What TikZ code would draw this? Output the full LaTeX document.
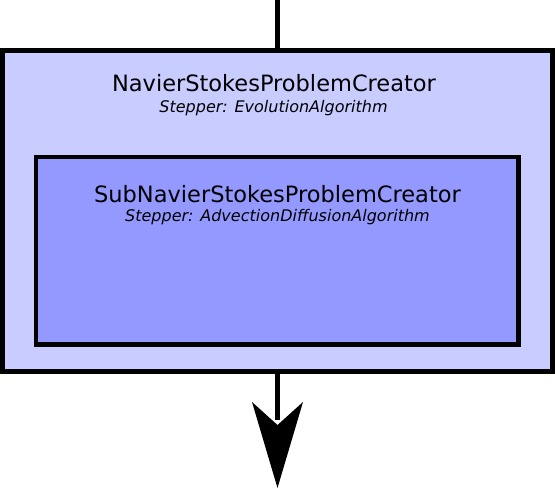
\documentclass[tikz,border=0pt]{standalone}
\usepackage{fontspec}
\setmainfont{DejaVu Sans}
\definecolor{outerfill}{RGB}{200,204,255}
\definecolor{innerfill}{RGB}{148,153,255}
\begin{document}
\begin{tikzpicture}[x=1pt,y=-1pt,
  boxstyle/.style={draw=black,line width=4.8pt,inner sep=0pt,outer sep=0pt,anchor=north west},
  titletext/.style={anchor=base,inner sep=0pt,font=\fontsize{22.5}{27}\selectfont},
  subtext/.style={anchor=base,inner sep=0pt,font=\fontsize{16}{19}\selectfont\itshape}]
\useasboundingbox (0,0) rectangle (555,489);
\coordinate (top) at (277.5,0);
\coordinate (tip) at (277.5,488);
\node[boxstyle,fill=outerfill,minimum width=550pt,minimum height=321.5pt] (outer) at (2.5,50.2) {};
\node[boxstyle,fill=innerfill,minimum width=482.5pt,minimum height=187.5pt] (inner) at (36,157) {};
\node[titletext] (t1) at (274,92) {NavierStokesProblemCreator};
\node[subtext] (s1) at (273.5,113) {Stepper: EvolutionAlgorithm};
\node[titletext] (t2) at (277.5,203) {SubNavierStokesProblemCreator};
\node[subtext] (s2) at (277.5,222) {Stepper: AdvectionDiffusionAlgorithm};
\draw[line width=4.8pt] (top) -- (outer.north);
\draw[line width=4.8pt] (outer.south) -- (277.5,420);
\fill[black] (tip) -- (252,402) -- (277.5,425) -- (303,402) -- cycle;
\end{tikzpicture}
\end{document}
